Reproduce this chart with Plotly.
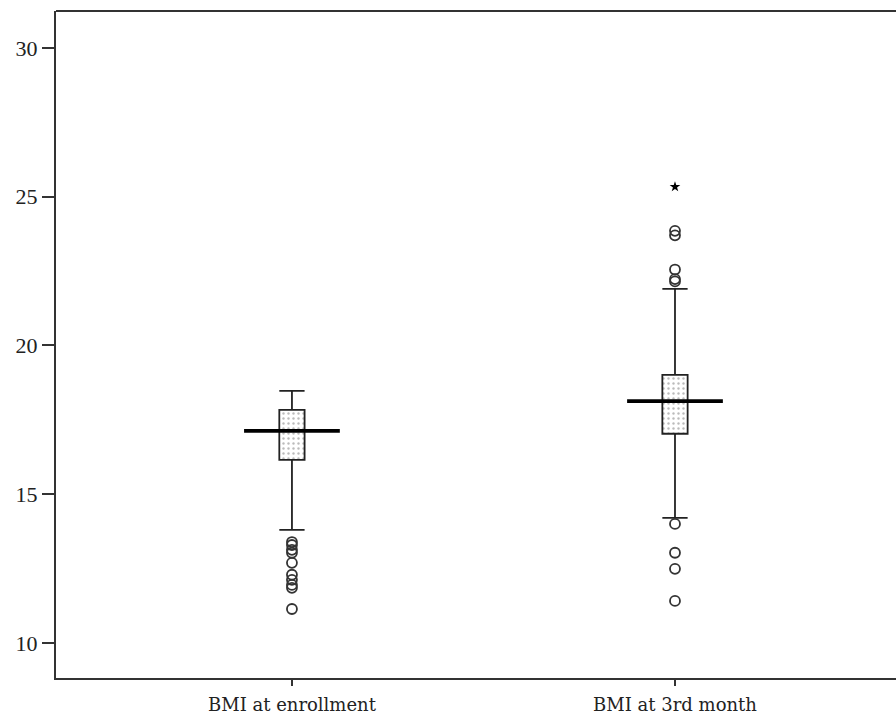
import plotly.graph_objects as go

categories = ["BMI at enrollment", "BMI at 3rd month"]
positions = [0, 1]
lower_fence = [13.80, 14.20]
q1 = [16.15, 17.03]
median = [17.13, 18.13]
q3 = [17.83, 19.01]
upper_fence = [18.47, 21.90]
outliers = [
    [13.39, 13.29, 13.13, 13.03, 12.69, 12.29, 12.12, 11.95, 11.85, 11.14],
    [23.85, 23.70, 22.55, 22.23, 22.15, 14.00, 13.03, 12.49, 11.41],
]
extremes = [[], [25.33]]
y_ticks = [10, 15, 20, 25, 30]

BOX_W = 0.066
MED_HALF = 0.125
INK = "#222222"

fig = go.Figure()

# dotted box fill
fig.add_trace(go.Bar(
    x=positions, y=[b - a for a, b in zip(q1, q3)], base=q1, width=BOX_W,
    marker=dict(color="white", line=dict(width=0),
                pattern=dict(shape=".", fgcolor="#777777", bgcolor="white", size=5, solidity=0.18)),
    hoverinfo="skip", showlegend=False))

for i, p in enumerate(positions):
    fig.add_trace(go.Box(
        x=[p], q1=[q1[i]], median=[median[i]], q3=[q3[i]],
        lowerfence=[lower_fence[i]], upperfence=[upper_fence[i]],
        width=BOX_W, whiskerwidth=1, fillcolor="rgba(0,0,0,0)",
        line=dict(color=INK, width=1.8), boxpoints=False, showlegend=False))
    # thick median line
    fig.add_trace(go.Scatter(
        x=[p - MED_HALF, p + MED_HALF], y=[median[i], median[i]], mode="lines",
        line=dict(color="black", width=3.8), showlegend=False, hoverinfo="skip"))
    fig.add_trace(go.Scatter(
        x=[p] * len(outliers[i]), y=outliers[i], mode="markers",
        marker=dict(symbol="circle-open", size=10, color="#333333", line=dict(width=1.8)),
        showlegend=False))
    if extremes[i]:
        fig.add_trace(go.Scatter(
            x=[p] * len(extremes[i]), y=extremes[i], mode="markers",
            marker=dict(symbol="star", size=8, color="black"), showlegend=False))

fig.update_layout(
    width=896, height=717,
    margin=dict(l=56, r=0, t=11, b=39),
    plot_bgcolor="white", paper_bgcolor="white",
    font=dict(family="Liberation Serif", size=20, color="#222222"),
    xaxis=dict(range=[-0.616, 1.577], tickvals=positions, ticktext=categories,
               tickfont=dict(family="DejaVu Serif", size=18),
               showline=True, linecolor="#333333", linewidth=2, ticks="outside",
               ticklen=6, tickwidth=2, tickcolor="#333333", showgrid=False, zeroline=False,
               ticklabelstandoff=3),
    yaxis=dict(range=[8.82, 31.24], tickvals=y_ticks, showline=True, linecolor="#333333",
               tickfont=dict(family="Liberation Serif", size=22),
               linewidth=2, ticks="outside", ticklen=12, tickwidth=2, tickcolor="#333333",
               showgrid=False, zeroline=False, ticklabelstandoff=0),
    shapes=[dict(type="line", xref="paper", yref="paper", x0=0, x1=1, y0=1, y1=1,
                 line=dict(color="#333333", width=2))],
)

fig.write_html("out.html", config={"displayModeBar": False},
               post_script="document.body.style.margin='0px';document.body.style.overflow='hidden';")
